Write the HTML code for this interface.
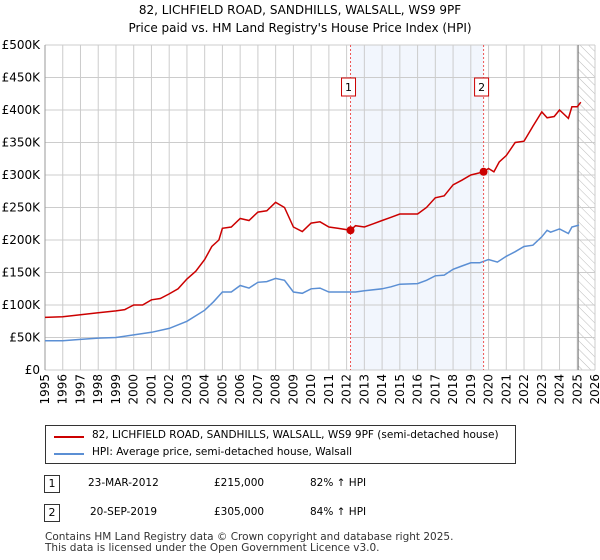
<!DOCTYPE html>
<html><head><meta charset="utf-8"><style>
body{margin:0;background:#fff;font-family:"DejaVu Sans","Liberation Sans",sans-serif;}
#wrap{position:relative;width:600px;height:560px;overflow:hidden}
.t{position:absolute;font-size:12px;color:#000;white-space:nowrap}
svg text{font-family:"DejaVu Sans","Liberation Sans",sans-serif}
</style></head><body><div id="wrap">
<div class="t" style="left:0;width:600px;text-align:center;top:3px;font-size:12px">82, LICHFIELD ROAD, SANDHILLS, WALSALL, WS9 9PF</div>
<div class="t" style="left:0;width:600px;text-align:center;top:21px;font-size:12px">Price paid vs. HM Land Registry's House Price Index (HPI)</div>
<svg id="chart" width="600" height="420" style="position:absolute;left:0;top:0"></svg>
<div style="position:absolute;left:45px;top:425px;width:469px;height:37px;border:1px solid #333;background:#fff">
<div style="position:absolute;left:8px;top:10px;width:30px;height:2px;background:#cc0000"></div>
<div class="t" style="left:46px;top:3px;font-size:10.5px">82, LICHFIELD ROAD, SANDHILLS, WALSALL, WS9 9PF (semi-detached house)</div>
<div style="position:absolute;left:8px;top:27px;width:30px;height:2px;background:#5b8fd4"></div>
<div class="t" style="left:46px;top:20px;font-size:10.5px">HPI: Average price, semi-detached house, Walsall</div>
</div>
<div style="position:absolute;left:44px;top:475px;width:14px;height:16px;border:1px solid #333;font-size:11px;text-align:center;line-height:16px">1</div>
<div class="t" style="left:88px;top:477px;font-size:10.5px">23-MAR-2012</div>
<div class="t" style="left:214px;top:477px;font-size:10.5px">£215,000</div>
<div class="t" style="left:310px;top:477px;font-size:10.5px">82% ↑ HPI</div>
<div style="position:absolute;left:44px;top:504px;width:14px;height:16px;border:1px solid #333;font-size:11px;text-align:center;line-height:16px">2</div>
<div class="t" style="left:90px;top:506px;font-size:10.5px">20-SEP-2019</div>
<div class="t" style="left:214px;top:506px;font-size:10.5px">£305,000</div>
<div class="t" style="left:310px;top:506px;font-size:10.5px">84% ↑ HPI</div>
<div class="t" style="left:45px;top:532px;font-size:10.5px;color:#333;line-height:11px">Contains HM Land Registry data © Crown copyright and database right 2025.<br>This data is licensed under the Open Government Licence v3.0.</div>
</div>
<script>
const hpiYears=[1995,1996,1997,1998,1999,2000,2001,2002,2003,2004,2004.5,2005,2005.5,2006,2006.5,2007,2007.5,2008,2008.5,2009,2009.5,2010,2010.5,2011,2011.5,2012,2012.5,2013,2014,2014.5,2015,2016,2016.5,2017,2017.5,2018,2018.5,2019,2019.5,2020,2020.5,2021,2021.5,2022,2022.5,2023,2023.3,2023.5,2024,2024.5,2024.7,2025.1];
const hpiValues=[45,45,47,49,50,54,58,64,75,92,105,120,120,130,126,135,136,141,138,120,118,125,126,120,120,120,120,122,125,128,132,133,138,145,146,155,160,165,165,170,166,175,182,190,192,205,215,212,217,210,220,223];
const priceYears=[1995,1996,1997,1998,1999,1999.5,2000,2000.5,2001,2001.5,2002,2002.5,2003,2003.5,2004,2004.4,2004.8,2005,2005.5,2006,2006.5,2007,2007.5,2008,2008.5,2009,2009.5,2010,2010.5,2011,2011.5,2012.22,2012.5,2013,2013.5,2014,2014.5,2015,2016,2016.5,2017,2017.5,2018,2018.5,2019,2019.72,2020,2020.3,2020.6,2021,2021.5,2022,2022.5,2023,2023.3,2023.7,2024,2024.5,2024.7,2025,2025.2];
const priceValues=[81,82,85,88,91,93,100,100,108,110,117,125,140,152,170,190,200,218,220,233,230,243,245,258,250,220,213,226,228,220,218,215,222,220,225,230,235,240,240,250,265,268,285,292,300,305,310,305,320,330,350,352,375,397,388,390,400,387,405,405,412];
const saleYears=[2012.22,2019.72];
const saleValues=[215,305];
const yTicks=[0,50,100,150,200,250,300,350,400,450,500];
const xTicks=[1995,1996,1997,1998,1999,2000,2001,2002,2003,2004,2005,2006,2007,2008,2009,2010,2011,2012,2013,2014,2015,2016,2017,2018,2019,2020,2021,2022,2023,2024,2025,2026];
const X0=45,X1=595,Y0=370,Y1=45;
const xs=y=>X0+(y-1995)/(2026-1995)*(X1-X0);
const ys=v=>Y0-v/500*(Y0-Y1);
const svg=document.getElementById('chart');const NS='http://www.w3.org/2000/svg';
function mk(t,a,p){const e=document.createElementNS(NS,t);for(const k in a)e.setAttribute(k,a[k]);(p||svg).appendChild(e);return e;}
const defs=mk('defs',{});const pat=mk('pattern',{id:'h',width:6,height:6,patternUnits:'userSpaceOnUse',patternTransform:'rotate(-45)'},defs);mk('line',{x1:0,y1:0,x2:0,y2:6,stroke:'#bbb','stroke-width':1},pat);
let e=mk('rect',{x:xs(saleYears[0]),y:Y1,width:xs(saleYears[1])-xs(saleYears[0]),height:Y0-Y1,fill:'#f2f6fd'});

e=mk('rect',{x:xs(2025.05),y:Y1,width:X1-xs(2025.05),height:Y0-Y1,fill:'url(#h)'});

yTicks.forEach(v=>{mk('line',{x1:X0,x2:X1,y1:ys(v),y2:ys(v),stroke:'#ccc'});
const t=mk('text',{x:X0-5,y:ys(v)+4,'text-anchor':'end','font-size':12});t.textContent='£'+(v?v+'K':'0');
});
xTicks.forEach(y=>{mk('line',{x1:xs(y),x2:xs(y),y1:Y1,y2:Y0,stroke:'#ccc'});
const t=mk('text',{x:0,y:0,'text-anchor':'end','font-size':12,transform:`translate(${xs(y)+4},${Y0+4}) rotate(-90)`});t.textContent=y;
});
mk('line',{x1:xs(2025.05),x2:xs(2025.05),y1:Y1,y2:Y0,stroke:'#777'});
mk('line',{x1:X0,x2:X0,y1:Y1,y2:Y0,stroke:'#999'});
function line(xa,va,c,n){const d=xa.map((x,i)=>(i?'L':'M')+xs(x).toFixed(1)+','+ys(va[i]).toFixed(1)).join('');
const p=mk('path',{d:d,fill:'none',stroke:c,'stroke-width':1.5});}
line(hpiYears,hpiValues,'#5b8fd4','hpi-line');
line(priceYears,priceValues,'#cc0000','price-line');
saleYears.forEach((y,i)=>{mk('line',{x1:xs(y),x2:xs(y),y1:Y1,y2:Y0,stroke:'#e55','stroke-dasharray':'2,2'});
const c=mk('circle',{cx:xs(y),cy:ys(saleValues[i]),r:4,fill:'#cc0000'});
const r=mk('rect',{x:xs(y)-9,y:78,width:14,height:18,fill:'#fff',stroke:'#cc0000'});
const t=mk('text',{x:xs(y)-2,y:91,'text-anchor':'middle','font-size':11});t.textContent=i+1;});
</script></body></html>
